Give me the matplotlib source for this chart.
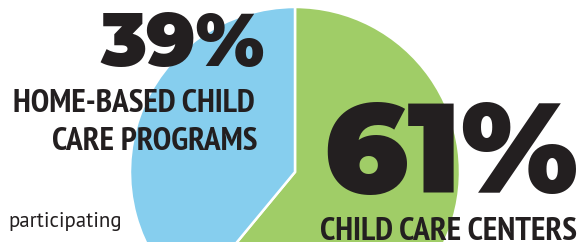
import matplotlib
matplotlib.use("Agg")
import matplotlib.pyplot as plt

# data
labels = ["CHILD CARE CENTERS", "HOME-BASED CHILD", "CARE PROGRAMS"]
shares = [61, 39]
colors = ["#A0CD67", "#86CEEE"]
note = "participating"

W, H = 585, 242
DARK = "#231F20"
NARROW = ["PT Sans Narrow", "DejaVu Sans"]
HEAVY = ["Montserrat Alternates", "DejaVu Sans"]

fig = plt.figure(figsize=(W / 100, H / 100), dpi=100)
ax = fig.add_axes([0, 0, 1, 1])

# pie, centre and radius in pixels (y measured from bottom)
ax.pie(shares, colors=colors, startangle=90, counterclock=False,
       center=(295, H - 172), radius=165,
       wedgeprops=dict(edgecolor="white", linewidth=1.8))

ax.set_xlim(0, W)
ax.set_ylim(0, H)
ax.set_aspect("equal")
ax.axis("off")

# big percentages
ax.text(265, H - 66, f"{shares[1]}%", fontsize=54, fontweight=900,
        family=HEAVY, color=DARK, ha="right", va="baseline")
ax.text(578, H - 193, f"{shares[0]}%", fontsize=92, fontweight=900,
        family=HEAVY, color=DARK, ha="right", va="baseline")

# category labels
ax.text(13, H - 112, labels[1], fontsize=24, fontweight="bold",
        family=NARROW, color=DARK, ha="left", va="baseline")
ax.text(257, H - 150, labels[2], fontsize=24, fontweight="bold",
        family=NARROW, color=DARK, ha="right", va="baseline")
ax.text(577, H - 240, labels[0], fontsize=24, fontweight="bold",
        family=NARROW, color=DARK, ha="right", va="baseline")

ax.text(8, H - 227, note, fontsize=15, family=["PT Sans", "DejaVu Sans"],
        color=DARK, ha="left", va="baseline")

fig.savefig("out.png", dpi=100)
